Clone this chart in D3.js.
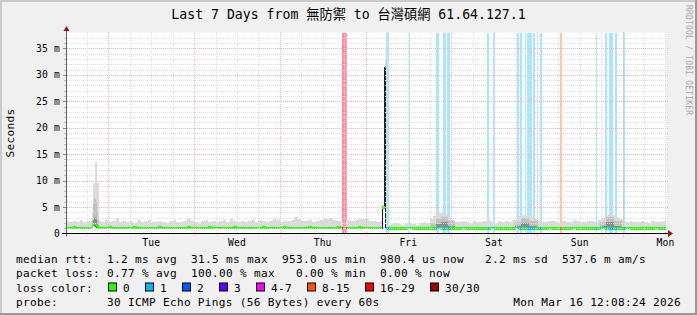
<!DOCTYPE html>
<html>
<head>
<meta charset="utf-8">
<script src="https://cdn.jsdelivr.net/npm/d3@7"></script>
<style>
html, body { margin: 0; padding: 0; background: #f0f0f0; }
svg { display: block; }
text { font-family: "DejaVu Sans Mono", "Noto Sans CJK TC", monospace; white-space: pre; }
</style>
</head>
<body>
<div id="chart"></div>
<script>
var W = 697, H = 315;

var title = "Last 7 Days from 無防禦 to 台灣碩網 61.64.127.1";
var yLabel = "Seconds";
var dayLabels = ["Tue", "Wed", "Thu", "Fri", "Sat", "Sun", "Mon"];
var yTicks = [0, 5, 10, 15, 20, 25, 30, 35];

var lossLabels = ["0", "1", "2", "3", "4-7", "8-15", "16-29", "30/30"];
var lossMax = [0, 1, 2, 3, 7, 15, 29, 30];
var lossColors = ["#26ff00", "#00b8ff", "#0059ff", "#5e00ff", "#ff00ff", "#ff5500", "#ff0000", "#a10000"];
var lossBg = [null, "#a9e6fc", "#a6c4ff", "#c2a6ff", "#ff9fd0", "#ffc4a6", "#ff8a9c", "#ff8a9c"];

// hourly smoke top (ms), from 2026-03-09 12:00
var smokeHi = [
  2.3, 2.1, 2.4, 2.2, 2.5, 2.2, 2.3, 2.4, 2.6,
  2.3, 2.2, 2.6, 2.1, 2.3, 2.9,
  2.2, 2.4, 2.1, 2.3, 2.0, 2.5, 2.2, 2.3, 2.6, 2.1, 2.2, 2.4, 2.2, 2.0, 2.3, 2.5,
  2.2, 2.1, 2.4, 2.7, 2.3, 2.2, 2.0, 2.3, 2.6, 2.2, 2.4, 2.1, 2.3, 2.5, 2.2, 2.8, 2.3, 2.1, 2.4, 2.2,
  2.3, 2.5, 2.2, 2.6, 2.4, 2.2, 2.3, 2.7, 2.5, 2.2, 2.4, 2.3, 2.6, 3.2, 2.8, 2.4, 2.3, 2.5, 2.2, 2.4,
  2.6, 2.9, 2.7, 2.9, 2.5, 2.3, 2.4, 2.2, 2.6, 2.3, 2.5, 2.8, 2.7, 2.8, 2.4, 2.3, 2.2, 2.4,
  2.2,
  1.7, 1.8, 1.9, 1.8, 1.7, 2.0, 1.9, 1.8, 1.7, 1.9, 2.1, 2.0,
  2.8, 3.4, 3.8, 4.0, 3.6, 3.2, 2.6, 2.2,
  2.1, 2.3, 2.2, 2.0, 2.4, 2.2, 2.1, 2.3, 2.5, 2.2, 2.0, 2.3, 2.2, 2.4, 2.1, 2.6,
  2.9, 3.3, 3.5, 3.4, 3.1, 2.7, 2.3,
  2.2, 2.1, 2.3, 2.4, 2.2, 2.0, 2.3, 2.1, 2.2, 2.5, 2.3, 2.1, 2.2, 2.4, 2.3, 2.2, 2.6,
  2.9, 3.3, 3.6, 3.5, 3.2, 2.8, 2.4, 2.2,
  2.3, 2.1, 2.2, 2.4, 2.2, 2.0, 2.3, 2.2, 2.1, 2.3, 2.2
];

// hourly median rtt (ms)
var medianRtt = [
  1.05, 1.05, 1.1, 1.05, 1.05, 1.05, 1.0, 1.05, 1.1, 1.05, 1.05, 1.05, 1.1, 1.05, 1.05, 1.0, 1.05, 1.05, 1.05, 1.1,
  1.05, 1.05, 1.05, 1.0, 1.05, 1.05, 1.1, 1.05, 1.05, 1.05, 1.05, 1.0, 1.05, 1.05, 1.1, 1.05, 1.05, 1.05, 1.05, 1.05,
  1.1, 1.05, 1.05, 1.0, 1.05, 1.05, 1.05, 1.1, 1.05, 1.05, 1.05, 1.05, 1.0, 1.05, 1.05, 1.1, 1.05, 1.05, 1.05, 1.05,
  1.05, 1.1, 1.05, 1.05, 1.0, 1.05, 1.05, 1.05, 1.1, 1.05, 1.05, 1.05, 1.05, 1.0, 1.05, 1.05, 1.1, 1.05, 1.05, 1.05,
  1.05, 1.05, 1.1, 1.05, 1.05, 1.0, 1.05, 1.05, 1.05, 1.05, 0.95, 0.9, 0.95, 0.95, 0.9, 0.95, 1.0, 0.95, 0.9, 0.95,
  0.95, 0.95, 0.9, 0.95, 1.0, 0.95, 0.95, 0.9, 0.95, 0.95, 0.95, 1.0, 0.95, 0.9, 0.95, 0.95, 0.95, 0.9, 0.95, 1.0,
  0.95, 0.95, 0.9, 0.95, 0.95, 0.95, 1.0, 0.95, 0.9, 0.95, 0.95, 0.95, 0.95, 0.9, 0.95, 1.0, 0.95, 0.95, 0.9, 0.95,
  0.95, 0.95, 1.0, 0.95, 0.9, 0.95, 0.95, 0.95, 0.9, 0.95, 1.0, 0.95, 0.95, 0.9, 0.95, 0.95, 0.95, 1.0, 0.95, 0.9,
  0.95, 0.95, 0.95, 0.9, 0.95, 1.0, 0.95, 0.95, 0.95
];

// packet loss periods (lost pings out of 30)
var lossStart = ["2026-03-12 17:25", "2026-03-12 17:42", "2026-03-12 18:26", "2026-03-13 05:44", "2026-03-13 12:05",
  "2026-03-13 19:44", "2026-03-13 21:41", "2026-03-13 22:49", "2026-03-14 10:00", "2026-03-14 11:41",
  "2026-03-14 18:25", "2026-03-14 19:15", "2026-03-14 20:39", "2026-03-14 21:13", "2026-03-14 22:53",
  "2026-03-15 00:51", "2026-03-15 06:27", "2026-03-15 16:32", "2026-03-15 19:03", "2026-03-15 20:10",
  "2026-03-15 21:51", "2026-03-16 00:05"];
var lossEnd = ["2026-03-12 17:42", "2026-03-12 18:26", "2026-03-12 18:43", "2026-03-13 06:34", "2026-03-13 12:27",
  "2026-03-13 20:34", "2026-03-13 22:32", "2026-03-13 23:39", "2026-03-14 10:34", "2026-03-14 12:20",
  "2026-03-14 18:58", "2026-03-14 19:49", "2026-03-14 20:56", "2026-03-14 22:37", "2026-03-14 23:22",
  "2026-03-15 01:25", "2026-03-15 07:01", "2026-03-15 16:49", "2026-03-15 19:37", "2026-03-15 21:17",
  "2026-03-15 22:25", "2026-03-16 00:39"];
var lossCount = [18, 30, 5, 1, 1, 1, 1, 1, 1, 1, 1, 1, 1, 1, 1, 1, 9, 1, 1, 1, 1, 1];

// latency spikes (fine samples)
var spikeStart = ["2026-03-09 19:25", "2026-03-09 19:41", "2026-03-09 19:58", "2026-03-09 20:15", "2026-03-09 20:32",
  "2026-03-09 20:49", "2026-03-09 21:05", "2026-03-13 04:41", "2026-03-13 05:22"];
var spikeEnd = ["2026-03-09 19:41", "2026-03-09 19:58", "2026-03-09 20:15", "2026-03-09 20:32", "2026-03-09 20:49",
  "2026-03-09 21:05", "2026-03-09 21:22", "2026-03-13 05:22", "2026-03-13 05:44"];
var spikeMedian = [1.3, 1.6, 1.8, 1.7, 1.5, 1.3, 1.1, 4.9, 31.5];
var spikeHi = [4.0, 9.5, 9.5, 13.6, 13.6, 9.5, 9.5, 5.4, 33.0];
var spikeMid = [2.5, 6.0, 6.5, 6.5, 6.0, 4.0, 2.5, 4.9, 31.5];
var spikeCore = [1.5, 2.5, 3.0, 3.2, 2.8, 2.0, 1.4, 4.9, 31.5];

// denser smoke periods
var bumpStart = ["2026-03-13 18:03", "2026-03-13 19:44", "2026-03-13 21:08", "2026-03-13 23:05", "2026-03-14 17:51",
  "2026-03-14 19:32", "2026-03-14 21:46", "2026-03-15 17:39", "2026-03-15 19:20", "2026-03-15 21:34"];
var bumpEnd = ["2026-03-13 19:44", "2026-03-13 21:08", "2026-03-13 23:05", "2026-03-14 01:03", "2026-03-14 19:32",
  "2026-03-14 21:46", "2026-03-15 00:17", "2026-03-15 19:20", "2026-03-15 21:34", "2026-03-15 23:49"];
var bumpMid = [2.0, 2.8, 3.2, 2.3, 2.2, 3.0, 2.4, 2.2, 3.1, 2.4];
var bumpCore = [1.3, 1.8, 2.2, 1.5, 1.4, 2.0, 1.5, 1.4, 2.1, 1.5];

var rttStats = ["1.2 ms avg", "31.5 ms max", "953.0 us min", "980.4 us now", "2.2 ms sd", "537.6 m am/s"];
var rttCols = [13, 25, 38, 52, 67, 78];
var lossStats = ["0.77 % avg", "100.00 % max", "0.00 % min", "0.00 % now"];
var lossCols = [13, 25, 40, 52];
var probeText = "30 ICMP Echo Pings (56 Bytes) every 60s";
var stampText = "Mon Mar 16 12:08:24 2026";

/*---------------------------SCALES--------------------------*/

var parseTime = d3.timeParse("%Y-%m-%d %H:%M");
var tStart = new Date(2026, 2, 9, 12, 8, 24);
var tEnd = new Date(2026, 2, 16, 12, 8, 24);
var hour0 = new Date(2026, 2, 9, 12, 0, 0);

var pLeft = 66, pRight = 666, pTop = 32.5, pBottom = 233.5;
var x = d3.scaleTime().domain([tStart, tEnd]).range([pLeft, pRight]);
var y = d3.scaleLinear().domain([0, 38]).range([pBottom, pTop]);

var lossCat = function(n) { return lossMax.findIndex(function(m) { return n <= m; }); };

var ranges = function(s, e) { return s.map(function(d, i) { return [parseTime(d), parseTime(e[i])]; }); };
var lossR = ranges(lossStart, lossEnd);
var spikeR = ranges(spikeStart, spikeEnd);
var bumpR = ranges(bumpStart, bumpEnd);
var findIn = function(rs, t) {
  for (var i = 0; i < rs.length; i++) if (t >= rs[i][0] && t < rs[i][1]) return i;
  return -1;
};

// merge everything into one step timeline
var cuts = [];
smokeHi.forEach(function(d, i) { cuts.push(+d3.timeHour.offset(hour0, i)); });
cuts.push(+d3.timeHour.offset(hour0, smokeHi.length));
[lossR, spikeR, bumpR].forEach(function(rs) {
  rs.forEach(function(r) { cuts.push(+r[0]); cuts.push(+r[1]); });
});
cuts = Array.from(new Set(cuts)).sort(function(a, b) { return a - b; });

var segs = [];
for (var k = 0; k < cuts.length - 1; k++) {
  var a = cuts[k], b = cuts[k + 1], m = new Date((a + b) / 2);
  var hi = Math.floor((m - hour0) / 3600000);
  var s = findIn(spikeR, m), l = findIn(lossR, m), bu = findIn(bumpR, m);
  var seg = { a: new Date(a), b: new Date(b), loss: l < 0 ? 0 : lossCount[l] };
  if (s >= 0) {
    seg.med = spikeMedian[s]; seg.hi = spikeHi[s]; seg.mid = spikeMid[s]; seg.core = spikeCore[s];
  } else {
    seg.med = medianRtt[hi]; seg.hi = smokeHi[hi];
    seg.mid = bu >= 0 ? Math.min(bumpMid[bu], smokeHi[hi]) : null;
    seg.core = bu >= 0 ? bumpCore[bu] : null;
  }
  if (seg.loss >= 30) { seg.med = null; seg.hi = null; seg.mid = null; seg.core = null; }
  segs.push(seg);
}

/*---------------------------FRAME--------------------------*/

var svg = d3.select('#chart').append('svg')
  .attr('width', W)
  .attr('height', H);

svg.append('rect').attr('width', W).attr('height', H).attr('fill', '#f0f0f0');
svg.append('rect').attr('x', 0).attr('y', 0).attr('width', W).attr('height', 2).attr('fill', '#cbcbcb');
svg.append('rect').attr('x', 0).attr('y', 0).attr('width', 2).attr('height', H).attr('fill', '#cbcbcb');
svg.append('rect').attr('x', 0).attr('y', H - 2).attr('width', W).attr('height', 2).attr('fill', '#999999');
svg.append('rect').attr('x', W - 2).attr('y', 0).attr('width', 2).attr('height', H).attr('fill', '#999999');

svg.append('rect')
  .attr('x', pLeft).attr('y', pTop)
  .attr('width', pRight - pLeft).attr('height', pBottom - pTop)
  .attr('fill', '#ffffff');

svg.append('clipPath').attr('id', 'plot')
  .append('rect').attr('x', pLeft).attr('y', pTop).attr('width', pRight - pLeft).attr('height', pBottom - pTop);

var plot = svg.append('g').attr('clip-path', 'url(#plot)').attr('shape-rendering', 'crispEdges');

/*---------------------------LOSS BARS + SMOKE--------------------------*/

plot.selectAll('.lossbar').data(segs.filter(function(d) { return d.loss > 0; }))
  .enter().append('rect')
  .attr('x', function(d) { return x(d.a); })
  .attr('width', function(d) { return x(d.b) - x(d.a); })
  .attr('y', pTop)
  .attr('height', pBottom - pTop)
  .attr('fill', function(d) { return lossBg[lossCat(d.loss)]; });

var smokeLayer = function(key, color) {
  plot.append('g').selectAll('rect')
    .data(segs.filter(function(d) { return d[key] != null && d[key] > d.med; }))
    .enter().append('rect')
    .attr('x', function(d) { return x(d.a); })
    .attr('width', function(d) { return x(d.b) - x(d.a); })
    .attr('y', function(d) { return y(d[key]); })
    .attr('height', function(d) { return y(d.med) - y(d[key]); })
    .attr('fill', color);
};
smokeLayer('hi', '#dadada');
smokeLayer('mid', '#c0c0c0');
smokeLayer('core', '#8c8c8c');

/*---------------------------GRID--------------------------*/

var grid = svg.append('g').attr('shape-rendering', 'crispEdges');
d3.range(1, 38).forEach(function(v) {
  var yy = Math.round(y(v)) + 0.5;
  grid.append('line')
    .attr('x1', pLeft + 1).attr('x2', pRight + 2).attr('y1', yy).attr('y2', yy)
    .attr('stroke', v % 5 === 0 ? '#efb4b4' : '#dcdcdc')
    .attr('stroke-dasharray', '1,1');
  grid.append('line')
    .attr('x1', v % 5 === 0 ? pLeft - 3 : pLeft - 2).attr('x2', pLeft).attr('y1', yy).attr('y2', yy)
    .attr('stroke', v % 5 === 0 ? '#888888' : '#bbbbbb');
});
d3.timeHour.every(6).range(tStart, tEnd).forEach(function(t) {
  var xx = Math.round(x(t)) + 0.5;
  grid.append('line')
    .attr('x1', xx).attr('x2', xx).attr('y1', pTop - 1).attr('y2', pBottom + 3)
    .attr('stroke', t.getHours() === 0 ? '#efb4b4' : '#dcdcdc')
    .attr('stroke-dasharray', '1,1');
});

/*---------------------------MEDIAN--------------------------*/

var medPts = [];
segs.forEach(function(d) {
  medPts.push({ t: d.a, v: d.med });
  medPts.push({ t: d.b, v: d.med });
});
var medLine = d3.line()
  .defined(function(d) { return d.v != null; })
  .x(function(d) { return x(d.t); })
  .y(function(d) { return Math.round(y(d.v)) + 0.5; });

plot.append('path')
  .attr('d', medLine(medPts))
  .attr('fill', 'none')
  .attr('stroke', '#202020')
  .attr('stroke-width', 1);

var mw = 0.24;
plot.append('g').selectAll('rect')
  .data(segs.filter(function(d) { return d.med != null; }))
  .enter().append('rect')
  .attr('x', function(d) { return x(d.a); })
  .attr('width', function(d) { return Math.max(1, x(d.b) - x(d.a)); })
  .attr('y', function(d) { return y(d.med + mw); })
  .attr('height', function(d) { return y(d.med - mw) - y(d.med + mw); })
  .attr('fill', function(d) { return lossColors[lossCat(d.loss)]; });

/*---------------------------AXES--------------------------*/

svg.append('line')
  .attr('x1', pLeft + 0.5).attr('x2', pLeft + 0.5).attr('y1', pTop - 3).attr('y2', pBottom + 3)
  .attr('stroke', '#606060');
svg.append('line')
  .attr('x1', pLeft - 4).attr('x2', pRight + 4).attr('y1', pBottom).attr('y2', pBottom)
  .attr('stroke', '#000000');
svg.append('path')
  .attr('d', 'M' + (pLeft - 2.5) + ',' + (pTop - 1.5) + 'L' + (pLeft + 0.5) + ',' + (pTop - 6.5) + 'L' + (pLeft + 3.5) + ',' + (pTop - 1.5) + 'Z')
  .attr('fill', '#8b1a1a');
svg.append('path')
  .attr('d', 'M' + (pRight + 2) + ',' + (pBottom - 3.5) + 'L' + (pRight + 7) + ',' + pBottom + 'L' + (pRight + 2) + ',' + (pBottom + 3.5) + 'Z')
  .attr('fill', '#8b1a1a');

var axisFont = { size: '9.7px', spacing: '0.15px' };

svg.append('g').selectAll('text').data(yTicks).enter().append('text')
  .attr('x', 60)
  .attr('y', function(d) { return y(d) + 3.5; })
  .attr('text-anchor', 'end')
  .style('font-size', axisFont.size)
  .style('letter-spacing', axisFont.spacing)
  .attr('fill', '#000')
  .text(function(d) { return d === 0 ? '0' : d + ' m'; });

svg.append('g').selectAll('text').data(dayLabels).enter().append('text')
  .attr('x', function(d, i) { return x(new Date(2026, 2, 10 + i, 12, 0, 0)); })
  .attr('y', 245.5)
  .attr('text-anchor', 'middle')
  .style('font-size', axisFont.size)
  .style('letter-spacing', axisFont.spacing)
  .attr('fill', '#000')
  .text(function(d) { return d; });

svg.append('text')
  .attr('transform', 'translate(14,' + ((pTop + pBottom) / 2) + ') rotate(-90)')
  .attr('text-anchor', 'middle')
  .style('font-size', '11.1px')
  .style('letter-spacing', '0.31px')
  .text(yLabel);

svg.append('text')
  .attr('x', W / 2)
  .attr('y', 18.5)
  .attr('text-anchor', 'middle')
  .style('font-size', '13.2px')
  .text(title);

svg.append('text')
  .attr('transform', 'translate(686,5) rotate(90)')
  .style('font-size', '8px')
  .style('letter-spacing', '0.2px')
  .attr('fill', '#a8a8a8')
  .text('RRDTOOL / TOBI OETIKER');

/*---------------------------LEGEND--------------------------*/

var legend = svg.append('g').style('font-size', '11.1px').style('letter-spacing', '0.31px');
var col = function(c) { return 16 + c * 7; };
var rows = [263.3, 277.3, 291.5, 305.5];

legend.append('text').attr('x', col(0)).attr('y', rows[0]).text('median rtt:');
rttStats.forEach(function(s, i) {
  legend.append('text').attr('x', col(rttCols[i])).attr('y', rows[0]).text(s);
});
legend.append('text').attr('x', col(0)).attr('y', rows[1]).text('packet loss:');
lossStats.forEach(function(s, i) {
  legend.append('text').attr('x', col(lossCols[i])).attr('y', rows[1]).text(s);
});
legend.append('text').attr('x', col(0)).attr('y', rows[2]).text('loss color:');
var bx = 108;
lossLabels.forEach(function(lab, i) {
  legend.append('rect')
    .attr('x', bx + 0.5).attr('y', rows[2] - 8.5)
    .attr('width', 8).attr('height', 8)
    .attr('fill', lossColors[i])
    .attr('stroke', '#000');
  legend.append('text').attr('x', bx + 15).attr('y', rows[2]).text(lab);
  bx = bx + 15 + lab.length * 7 + 15;
});
legend.append('text').attr('x', col(0)).attr('y', rows[3]).text('probe:');
legend.append('text').attr('x', col(13)).attr('y', rows[3]).text(probeText);
legend.append('text').attr('x', 681).attr('y', rows[3]).attr('text-anchor', 'end').text(stampText);
</script>
</body>
</html>
